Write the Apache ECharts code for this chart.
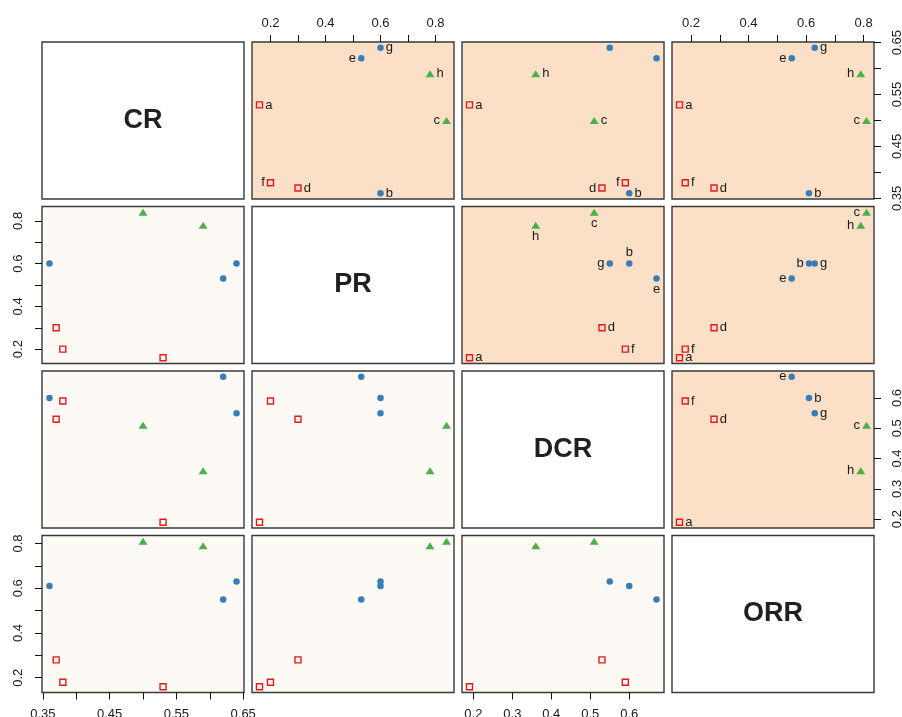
<!DOCTYPE html>
<html><head><meta charset="utf-8">
<script src="https://cdn.jsdelivr.net/npm/echarts@6/dist/echarts.min.js"></script>
<style>html,body{margin:0;padding:0;background:#fff}#c{width:902px;height:717px}</style>
</head><body><div id="c"></div><script>
// ---- data ----
const varNames = ['CR', 'PR', 'DCR', 'ORR'];
const pointNames = ['a', 'b', 'c', 'd', 'e', 'f', 'g', 'h'];
const pointGroup = [0, 1, 2, 0, 1, 0, 1, 2];
const CR  = [0.53, 0.36, 0.50, 0.37, 0.62, 0.38, 0.64, 0.59];
const PR  = [0.16, 0.60, 0.84, 0.30, 0.53, 0.20, 0.60, 0.78];
const DCR = [0.19, 0.60, 0.51, 0.53, 0.67, 0.59, 0.55, 0.36];
const ORR = [0.16, 0.61, 0.81, 0.28, 0.55, 0.18, 0.63, 0.79];
const crTicks = [0.35, 0.40, 0.45, 0.50, 0.55, 0.60, 0.65];
const crTickLabels = [0.35, 0.45, 0.55, 0.65];
const prTicks = [0.2, 0.3, 0.4, 0.5, 0.6, 0.7, 0.8];
const prTickLabels = [0.2, 0.4, 0.6, 0.8];
const dcrTicks = [0.2, 0.3, 0.4, 0.5, 0.6];
const dcrTickLabels = [0.2, 0.3, 0.4, 0.5, 0.6];
const orrTicks = [0.2, 0.3, 0.4, 0.5, 0.6, 0.7, 0.8];
const orrTickLabels = [0.2, 0.4, 0.6, 0.8];

// label placement in the upper panels (row-col), per point a..h
const labelPos = {
  '0-1': ['right', 'right', 'left', 'right', 'left', 'left', 'right', 'right'],
  '0-2': ['right', 'right', 'right', 'left', null, 'left', null, 'right'],
  '0-3': ['right', 'right', 'left', 'right', 'left', 'right', 'right', 'left'],
  '1-2': ['right', 'top', 'bottom', 'right', 'bottom', 'right', 'left', 'bottom'],
  '1-3': ['right', 'left', 'left', 'right', 'left', 'right', 'right', 'left'],
  '2-3': ['right', 'right', 'left', 'right', 'left', 'right', 'right', 'left']
};

// ---- style ----
const FONT = '"Liberation Sans", Arial, Helvetica, sans-serif';
const groupColors = ['#E41A1C', '#377EB8', '#4DAF4A'];
const upperBg = '#FBDFC7';
const lowerBg = '#FDF9F4';
const borderColor = '#3a3a3a';

const vals = [CR, PR, DCR, ORR];
const ticks = [crTicks, prTicks, dcrTicks, orrTicks];
const tickLabels = [crTickLabels, prTickLabels, dcrTickLabels, orrTickLabels];
function range(arr) {
  const mn = Math.min(...arr), mx = Math.max(...arr), p = (mx - mn) * 0.04;
  return [mn - p, mx + p];
}
const ranges = vals.map(range);

const colLeft = j => 42 + j * 210;
const rowTop = i => 42 + i * 164.5;
const PW = 202, PH = 157;

const grids = [], xAxes = [], yAxes = [], series = [], graphics = [];
const fmt = v => String(+(+v).toFixed(2));

let gi = 0;
for (let i = 0; i < 4; i++) {
  for (let j = 0; j < 4; j++) {
    const diag = i === j;
    const upper = j > i;
    grids.push({
      left: colLeft(j), top: rowTop(i), width: PW, height: PH,
      show: true, backgroundColor: diag ? '#ffffff' : (upper ? upperBg : lowerBg),
      borderColor: borderColor, borderWidth: 1.4, containLabel: false,
      outerBoundsMode: 'none'
    });
    let xPos = null;
    if (i === 0 && (j === 1 || j === 3)) xPos = 'top';
    if (i === 3 && (j === 0 || j === 2)) xPos = 'bottom';
    let yPos = null;
    if (j === 0 && (i === 1 || i === 3)) yPos = 'left';
    if (j === 3 && (i === 0 || i === 2)) yPos = 'right';
    const xv = diag ? 0 : j, yv = diag ? 0 : i;
    xAxes.push({
      gridIndex: gi, type: 'value', position: xPos || 'bottom',
      min: ranges[xv][0], max: ranges[xv][1],
      axisLine: { show: false }, splitLine: { show: false },
      axisTick: { show: !!xPos && !diag, length: 7, lineStyle: { color: '#111', width: 1 }, customValues: ticks[xv] },
      axisLabel: { show: !!xPos && !diag, customValues: tickLabels[xv], formatter: fmt,
        margin: xPos === 'top' ? 12 : 15, fontSize: 13, color: '#1a1a1a', fontFamily: FONT }
    });
    yAxes.push({
      gridIndex: gi, type: 'value', position: yPos || 'left',
      min: ranges[yv][0], max: ranges[yv][1],
      axisLine: { show: false }, splitLine: { show: false },
      axisTick: { show: !!yPos && !diag, length: 7, lineStyle: { color: '#111', width: 1 }, customValues: ticks[yv] },
      axisLabel: { show: !!yPos && !diag, customValues: tickLabels[yv], formatter: fmt, rotate: 90,
        margin: 17, fontSize: 13, color: '#1a1a1a', fontFamily: FONT }
    });
    if (diag) {
      graphics.push({
        type: 'text', x: colLeft(j) + PW / 2, y: rowTop(i) + PH / 2,
        style: { text: varNames[i], fontSize: 27, fontWeight: 'bold', fontFamily: FONT,
          fill: '#231F20', align: 'center', verticalAlign: 'middle' }
      });
    } else {
      const lp = labelPos[i + '-' + j];
      const data = pointNames.map((n, k) => {
        const g = pointGroup[k];
        const pos = lp ? lp[k] : null;
        const item = { name: n, value: [vals[j][k], vals[i][k]] };
        if (g === 0) {
          item.symbol = 'rect'; item.symbolSize = 6;
          item.itemStyle = { color: 'rgba(0,0,0,0)', borderColor: groupColors[0], borderWidth: 1.4, opacity: 1 };
        } else if (g === 1) {
          item.symbol = 'circle'; item.symbolSize = 6.5;
          item.itemStyle = { color: groupColors[1], opacity: 1 };
        } else {
          item.symbol = 'triangle'; item.symbolSize = [9, 7];
          item.itemStyle = { color: groupColors[2], opacity: 1 };
        }
        item.label = pos ? { show: true, position: pos, formatter: n, distance: (pos === 'bottom' || pos === 'top') ? 1 : 2,
          fontSize: 13, color: '#1a1a1a', fontFamily: FONT } : { show: false };
        return item;
      });
      series.push({
        type: 'scatter', xAxisIndex: gi, yAxisIndex: gi, data: data,
        itemStyle: { opacity: 1 },
        animation: false, silent: true, emphasis: { disabled: true }
      });
    }
    gi++;
  }
}

const chart = echarts.init(document.getElementById('c'), null, { renderer: 'canvas' });
chart.setOption({
  backgroundColor: '#ffffff',
  animation: false,
  grid: grids, xAxis: xAxes, yAxis: yAxes, series: series, graphic: graphics
});
</script></body></html>
